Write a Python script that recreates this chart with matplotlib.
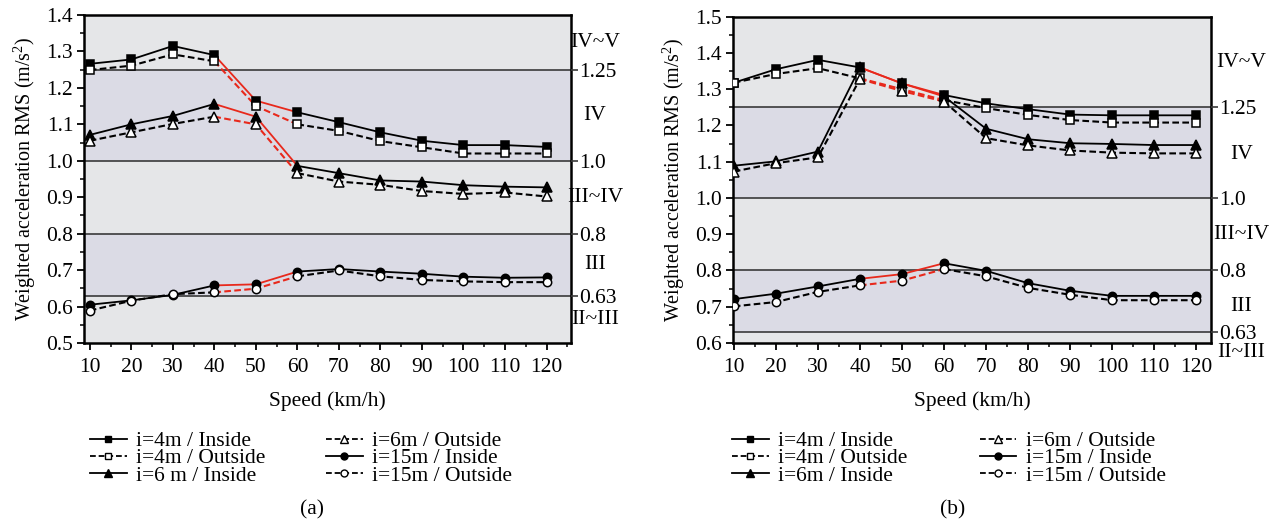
import matplotlib
matplotlib.use("Agg")
import matplotlib.pyplot as plt
from matplotlib.lines import Line2D
from matplotlib.ticker import MultipleLocator, FormatStrFormatter
import matplotlib.transforms as mtransforms

plt.rcParams['font.family'] = ['Liberation Serif', 'DejaVu Serif']
plt.rcParams['mathtext.fontset'] = 'custom'
plt.rcParams['mathtext.rm'] = 'Liberation Serif'
plt.rcParams['mathtext.it'] = 'Liberation Serif:italic'

speed = [10, 20, 30, 40, 50, 60, 70, 80, 90, 100, 110, 120]

# Panel (a)
a_4m_in = [1.266, 1.278, 1.315, 1.290, 1.165, 1.133, 1.106, 1.078, 1.055, 1.043, 1.043, 1.038]
a_4m_out = [1.249, 1.261, 1.292, 1.273, 1.150, 1.100, 1.082, 1.054, 1.037, 1.020, 1.020, 1.020]
a_6m_in = [1.071, 1.100, 1.123, 1.156, 1.121, 0.986, 0.966, 0.946, 0.943, 0.933, 0.929, 0.927]
a_6m_out = [1.055, 1.078, 1.101, 1.121, 1.100, 0.966, 0.943, 0.934, 0.917, 0.909, 0.913, 0.902]
a_15m_in = [0.605, 0.617, 0.632, 0.658, 0.661, 0.696, 0.703, 0.696, 0.690, 0.682, 0.679, 0.680]
a_15m_out = [0.589, 0.616, 0.634, 0.639, 0.649, 0.683, 0.699, 0.683, 0.673, 0.669, 0.667, 0.667]

# Panel (b)
b_4m_in = [1.318, 1.355, 1.381, 1.360, 1.316, 1.284, 1.261, 1.245, 1.230, 1.228, 1.228, 1.228]
b_4m_out = [1.318, 1.342, 1.358, 1.330, 1.300, 1.270, 1.248, 1.229, 1.215, 1.208, 1.208, 1.208]
b_6m_in = [1.089, 1.101, 1.128, 1.360, 1.316, 1.280, 1.191, 1.162, 1.151, 1.149, 1.146, 1.146]
b_6m_out = [1.073, 1.096, 1.112, 1.328, 1.295, 1.266, 1.165, 1.145, 1.131, 1.125, 1.123, 1.123]
b_15m_in = [0.721, 0.736, 0.756, 0.777, 0.790, 0.820, 0.799, 0.765, 0.744, 0.730, 0.730, 0.730]
b_15m_out = [0.701, 0.713, 0.741, 0.759, 0.772, 0.804, 0.784, 0.752, 0.733, 0.718, 0.718, 0.718]

series_labels = ["i=4m / Inside", "i=4m / Outside", "i=6 m / Inside",
                 "i=6m / Outside", "i=15m / Inside", "i=15m / Outside"]
series_labels_b = ["i=4m / Inside", "i=4m / Outside", "i=6m / Inside",
                   "i=6m / Outside", "i=15m / Inside", "i=15m / Outside"]

limit_values = [0.63, 0.8, 1.0, 1.25]
limit_labels = ["0.63", "0.8", "1.0", "1.25"]
zone_names = ["II~III", "III", "III~IV", "IV", "IV~V"]
zone_pos_a = [0.565, 0.715, 0.900, 1.125, 1.325]
zone_pos_b = [0.575, 0.700, 0.900, 1.120, 1.375]

LIGHT = "#e5e6e8"
BLUE = "#dbdbe5"
RED = "#e8291c"
DASH = (0, (3.2, 1.6))

styles = [
    dict(marker='s', mfc='black', ls='-', ms=5.5),
    dict(marker='s', mfc='white', ls=DASH, ms=5.5),
    dict(marker='^', mfc='black', ls='-', ms=6.5),
    dict(marker='^', mfc='white', ls=DASH, ms=6.5),
    dict(marker='o', mfc='black', ls='-', ms=6),
    dict(marker='o', mfc='white', ls=DASH, ms=6),
]

FS = 15.5

fig = plt.figure(figsize=(12.77, 5.24), dpi=100)


def draw_panel(rect, series, ylim, xlim, zone_pos, labels, letter, legend_xy, colsp):
    ax = fig.add_axes(rect)
    lo, hi = ylim
    bounds = [lo] + limit_values + [hi]
    for k in range(len(bounds) - 1):
        ax.axhspan(bounds[k], bounds[k + 1], color=LIGHT if k % 2 == 0 else BLUE,
                   lw=0, zorder=0)
    for v in limit_values:
        ax.axhline(v, color="#3a3a3a", lw=1.2, zorder=1)

    for vals, st in zip(series, styles):
        lw = 1.3 if st['ls'] == '-' else 1.5
        ax.plot(speed[:4], vals[:4], color='black', ls=st['ls'], lw=lw, zorder=3)
        ax.plot(speed[5:], vals[5:], color='black', ls=st['ls'], lw=lw, zorder=3)
        ax.plot(speed[3:6], vals[3:6], color=RED, ls=st['ls'], lw=lw, zorder=3)
        ax.plot(speed, vals, ls='none', marker=st['marker'], ms=st['ms'],
                mfc=st['mfc'], mec='black', mew=1.1, zorder=4)

    ax.set_xlim(*xlim)
    ax.set_ylim(lo, hi)
    ax.xaxis.set_major_locator(MultipleLocator(10))
    ax.xaxis.set_minor_locator(MultipleLocator(5))
    ax.yaxis.set_major_locator(MultipleLocator(0.1))
    ax.yaxis.set_minor_locator(MultipleLocator(0.05))
    ax.yaxis.set_major_formatter(FormatStrFormatter('%.1f'))
    ax.set_xticks(speed)
    ax.tick_params(which='major', direction='out', length=5, width=1.3,
                   labelsize=FS, pad=3)
    ax.tick_params(axis='x', which='major', pad=6)
    ax.tick_params(which='minor', direction='out', length=3, width=1.1)
    ax.tick_params(axis='x', which='both', top=False)
    ax.tick_params(axis='y', which='both', right=False)
    for sp in ax.spines.values():
        sp.set_linewidth(1.8)
    ax.set_xlabel("Speed (km/h)", fontsize=FS, labelpad=10)
    ax.set_ylabel("Weighted acceleration RMS (m/s$^{2}$)", fontsize=14.5, labelpad=6)

    tw = ax.twinx()
    tw.set_ylim(lo, hi)
    tw.set_yticks(limit_values)
    tw.set_yticklabels(limit_labels)
    tw.tick_params(axis='y', direction='out', length=5, width=1.2, labelsize=FS,
                   pad=1, color="#3a3a3a")
    tw.yaxis.set_minor_locator(plt.NullLocator())
    for sp in tw.spines.values():
        sp.set_visible(False)

    trans = mtransforms.blended_transform_factory(ax.transAxes, ax.transData)
    for name, yv in zip(zone_names, zone_pos):
        ax.text(zone_pos_x[letter], yv, name, transform=trans, ha='center',
                va='center', fontsize=FS, clip_on=False)

    handles = [Line2D([], [], color='black', ls=st['ls'], lw=1.3, marker=st['marker'],
                      ms=st['ms'] - 1, mfc=st['mfc'], mec='black', mew=1.0)
               for st in styles]
    fig.legend(handles, labels, loc='upper left',
               bbox_to_anchor=(legend_xy[0] / 1277, 1 - legend_xy[1] / 524),
               ncol=2, frameon=False, borderpad=0, borderaxespad=0,
               handlelength=1.7, handletextpad=0.45, columnspacing=colsp,
               labelspacing=-0.13, fontsize=FS)
    fig.text(letter_x[letter] / 1277, 1 - 510 / 524, "(%s)" % letter,
             ha='center', va='center', fontsize=FS)
    return ax


zone_pos_x = {'a': 1.049, 'b': 1.063}
letter_x = {'a': 312, 'b': 953}

draw_panel([84.4 / 1277, 1 - 343 / 524, (571 - 84.4) / 1277, (343 - 15) / 524],
           [a_4m_in, a_4m_out, a_6m_in, a_6m_out, a_15m_in, a_15m_out],
           (0.5, 1.4), (8.7, 125.9), zone_pos_a, series_labels, 'a', (90, 431), 2.8)
draw_panel([733.4 / 1277, 1 - 343 / 524, (1211 - 733.4) / 1277, (343 - 16.7) / 524],
           [b_4m_in, b_4m_out, b_6m_in, b_6m_out, b_15m_in, b_15m_out],
           (0.6, 1.5), (9.9, 123.5), zone_pos_b, series_labels_b, 'b', (732, 431), 3.35)

fig.savefig("out.png", dpi=100)
